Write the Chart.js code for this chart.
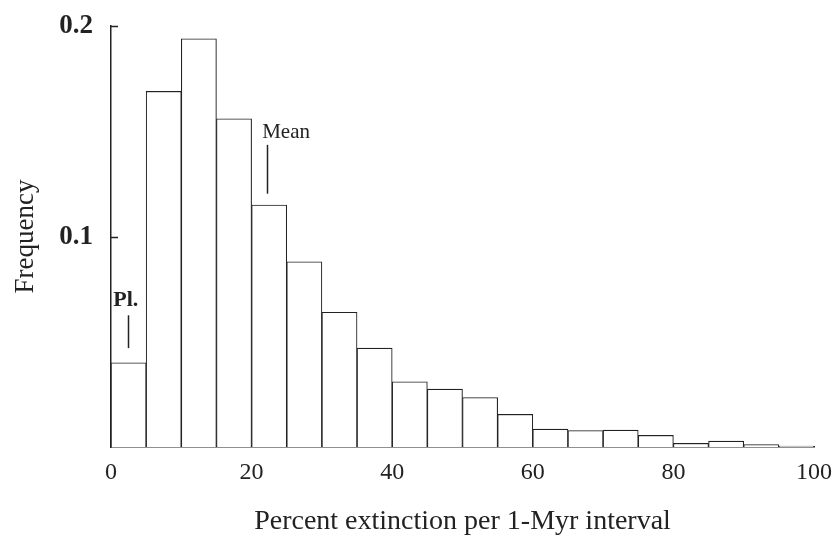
<!DOCTYPE html>
<html>
<head>
<meta charset="utf-8">
<script src="https://cdn.jsdelivr.net/npm/chart.js@4/dist/chart.umd.min.js"></script>
<style>
  body { margin: 0; background: #fff; }
</style>
</head>
<body>
<canvas id="chart" width="839" height="535"></canvas>
<script>
// histogram bins (5 % wide), centre of each bin
const binCenters = [2.5, 7.5, 12.5, 17.5, 22.5, 27.5, 32.5, 37.5, 42.5, 47.5,
  52.5, 57.5, 62.5, 67.5, 72.5, 77.5, 82.5, 87.5, 92.5, 97.5];
const frequency = [0.040, 0.169, 0.194, 0.156, 0.115, 0.088, 0.064, 0.047, 0.031, 0.0275,
  0.0235, 0.0155, 0.0085, 0.0078, 0.008, 0.0055, 0.0017, 0.0028, 0.0012, 0.0004];

const xTicks = [0, 20, 40, 60, 80, 100];
const yTicks = [0.1, 0.2];

// labelled markers: text position and short marker line, in data units
const noteLabels = ["Pl.", "Mean"];
const noteTextX = [2.1, 24.9];
const noteTextY = [0.0697, 0.1493];
const noteLineX = [2.46, 22.2];
const noteLineTop = [0.0626, 0.1436];
const noteLineBottom = [0.047, 0.1204];

const ink = "#222";
const serif = "'Liberation Serif', 'Times New Roman', serif";

const notesPlugin = {
  id: "notes",
  afterDatasetsDraw(chart) {
    const { ctx } = chart;
    const x = chart.scales.x;
    const y = chart.scales.y;
    ctx.save();
    ctx.strokeStyle = ink;
    ctx.lineWidth = 1.5;
    // inward tick marks on the y axis
    yTicks.forEach((v) => {
      const py = Math.round(y.getPixelForValue(v)) + 0.5;
      ctx.beginPath();
      ctx.moveTo(x.left, py);
      ctx.lineTo(x.left + 7, py);
      ctx.stroke();
    });
    ctx.fillStyle = ink;
    ctx.textAlign = "center";
    ctx.textBaseline = "middle";
    noteLabels.forEach((t, i) => {
      ctx.font = (i === 0 ? "bold 22px " : "21px ") + serif;
      ctx.fillText(t, x.getPixelForValue(noteTextX[i]), y.getPixelForValue(noteTextY[i]));
      const lx = Math.round(x.getPixelForValue(noteLineX[i])) + 0.5;
      ctx.beginPath();
      ctx.moveTo(lx, y.getPixelForValue(noteLineTop[i]));
      ctx.lineTo(lx, y.getPixelForValue(noteLineBottom[i]));
      ctx.stroke();
    });
    ctx.restore();
  },
};

new Chart(document.getElementById("chart"), {
  type: "bar",
  data: {
    datasets: [
      {
        data: binCenters.map((c, i) => ({ x: c, y: frequency[i] })),
        backgroundColor: "#fff",
        borderColor: ink,
        borderWidth: 1.1,
        barPercentage: 1,
        categoryPercentage: 1,
      },
    ],
  },
  options: {
    responsive: false,
    animation: false,
    layout: { padding: { left: 0, right: 25, top: 7, bottom: 0 } },
    plugins: {
      legend: { display: false },
      tooltip: { enabled: false },
    },
    scales: {
      x: {
        type: "linear",
        min: 0,
        max: 100,
        offset: false,
        afterBuildTicks: (scale) => {
          scale.ticks = xTicks.map((v) => ({ value: v }));
        },
        afterFit: (scale) => {
          scale.height = 88;
        },
        grid: { display: false, offset: false },
        border: { display: true, color: ink, width: 1.5 },
        ticks: {
          padding: 3,
          color: ink,
          font: { family: serif, size: 24 },
        },
        title: {
          display: true,
          text: "Percent extinction per 1-Myr interval",
          color: ink,
          font: { family: serif, size: 28 },
          padding: { top: 0, bottom: -3 },
        },
      },
      y: {
        min: 0,
        max: 0.2,
        afterBuildTicks: (scale) => {
          scale.ticks = yTicks.map((v) => ({ value: v }));
        },
        afterFit: (scale) => {
          scale.width = 111;
        },
        grid: { display: false },
        border: { display: true, color: ink, width: 1.5 },
        ticks: {
          padding: 10,
          color: ink,
          font: { family: serif, size: 27, weight: "bold" },
          callback: (v) => String(v),
        },
        title: {
          display: true,
          text: "Frequency",
          color: ink,
          font: { family: serif, size: 27 },
          padding: { top: 10, bottom: 0 },
        },
      },
    },
  },
  plugins: [notesPlugin],
});
</script>
</body>
</html>
